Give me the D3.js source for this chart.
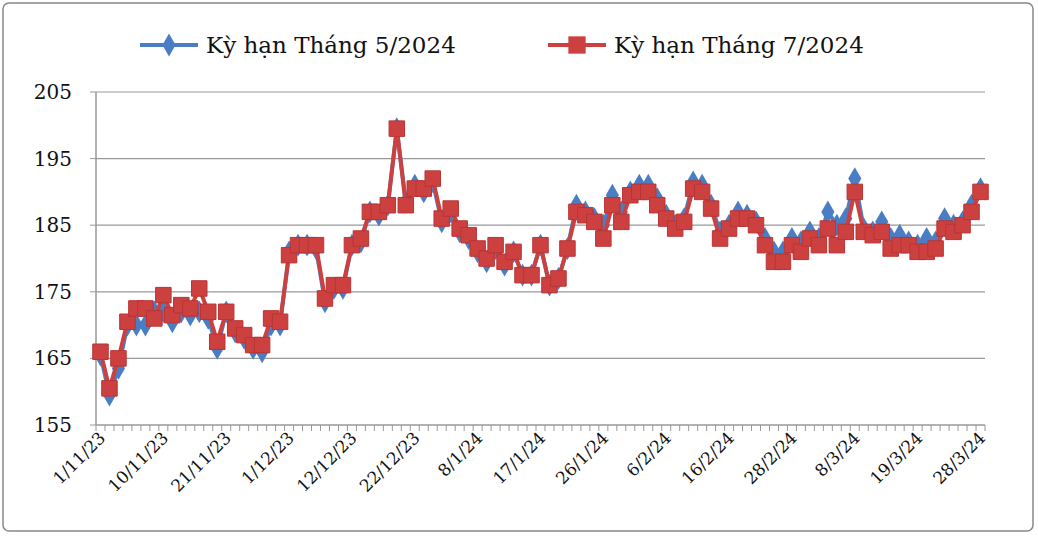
<!DOCTYPE html>
<html>
<head>
<meta charset="utf-8">
<script src="https://cdn.jsdelivr.net/npm/d3@7"></script>
<style>
  body { margin: 0; background: #fff; }
  text { font-family: "DejaVu Serif", "Liberation Serif", serif; fill: #111; }
</style>
</head>
<body>
<svg id="chart" width="1038" height="537"></svg>
<script>
// trading-day series, 99 sessions from 1/11/23 to 28/3/24
var may24 = [165.5,159.5,163.5,170,170,170,172,172,170.5,172,171.5,172,171,166.5,172,169,168,166.5,166,170,
  170,181,182,182,181.5,173.5,175.5,175.5,182,182.5,187,186.5,188,199.5,188.5,191,190,191.5,185.5,187,
  184,183,181,179.5,181.5,179,181,177.5,177.5,182,176,177,181.5,188,187,186,185,189.5,187,190,
  191,191,189,186.5,185,186,191.5,191,188,184,185,187,186.5,185.5,183,181,181,183,182.5,184,
  183,187,185,186,192,184.5,184,185.5,183,183.5,182.5,182,183,182.5,186,185,185.5,188,190.5];
var jul24 = [166,160.5,165,170.5,172.5,172.5,171,174.5,171.5,173,172.5,175.5,172,167.5,172,169.5,168.5,167,167,171,
  170.5,180.5,182,182,182,174,176,176,182,183,187,187,188,199.5,188,190.5,190.5,192,186,187.5,
  184.5,183.5,181.5,180,182,179.5,181,177.5,177.5,182,176,177,181.5,187,186.5,185.5,183,188,185.5,189.5,
  190,190,188,186,184.5,185.5,190.5,190,187.5,183,184.5,186,186,185,182,179.5,179.5,182,181,183,
  182,184.5,182,184,190,184,183.5,184,181.5,182,182,181,181,181.5,184.5,184,185,187,190];
var tickLabels = ["1/11/23","10/11/23","21/11/23","1/12/23","12/12/23","22/12/23","8/1/24","17/1/24",
  "26/1/24","6/2/24","16/2/24","28/2/24","8/3/24","19/3/24","28/3/24"];
var yTicks = [155,165,175,185,195,205];

var svg = d3.select("#chart");
var pLeft = 96, pRight = 985, pTop = 92, pBottom = 425;

svg.append("rect").attr("x", 3).attr("y", 3).attr("width", 1030).attr("height", 528)
  .attr("rx", 6).attr("fill", "#fff").attr("stroke", "#888").attr("stroke-width", 1.5);

var idx = d3.range(may24.length);
var x = d3.scaleBand().domain(idx).range([pLeft, pRight]);
var y = d3.scaleLinear().domain([155, 205]).range([pBottom, pTop]);
var cx = function (i) { return x(i) + x.bandwidth() / 2; };

// grid
svg.append("g").selectAll("line").data(yTicks.slice(1)).join("line")
  .attr("x1", pLeft).attr("x2", pRight).attr("y1", y).attr("y2", y)
  .attr("stroke", "#999").attr("stroke-width", 1.2);

// y axis
svg.append("line").attr("x1", pLeft).attr("x2", pLeft).attr("y1", pTop).attr("y2", pBottom)
  .attr("stroke", "#999").attr("stroke-width", 1.5);
svg.append("g").selectAll("text").data(yTicks).join("text")
  .attr("x", pLeft - 24).attr("y", function (d) { return y(d) + 7; })
  .attr("text-anchor", "end").style("font-size", "20px").text(function (d) { return d; });
svg.append("g").selectAll("line").data(yTicks).join("line")
  .attr("x1", pLeft - 6).attr("x2", pLeft).attr("y1", y).attr("y2", y).attr("stroke", "#999");

// x axis
svg.append("line").attr("x1", pLeft).attr("x2", pRight).attr("y1", pBottom).attr("y2", pBottom)
  .attr("stroke", "#999").attr("stroke-width", 1.5);
svg.append("g").selectAll("line").data(d3.range(may24.length + 1)).join("line")
  .attr("x1", function (i) { return pLeft + i * x.step(); })
  .attr("x2", function (i) { return pLeft + i * x.step(); })
  .attr("y1", pBottom).attr("y2", pBottom + 6).attr("stroke", "#999");
svg.append("g").selectAll("text").data(tickLabels).join("text")
  .attr("transform", function (d, k) { return "translate(" + (cx(k * 7) + 6) + "," + (pBottom + 14) + ") rotate(-45)"; })
  .attr("text-anchor", "end").style("font-size", "17px").text(function (d) { return d; });

var line = d3.line().x(function (d, i) { return cx(i); }).y(function (d) { return y(d); });

function drawSeries(data, color, shape, size) {
  var g = svg.append("g");
  g.append("path").datum(data).attr("d", line).attr("fill", "none")
    .attr("stroke", color).attr("stroke-width", 4).attr("stroke-linejoin", "round");
  g.selectAll("path.m").data(data).join("path").attr("class", "m")
    .attr("d", d3.symbol().type(shape).size(size))
    .attr("transform", function (d, i) { return "translate(" + cx(i) + "," + y(d) + ")"; })
    .attr("fill", color).attr("stroke", shape === d3.symbolSquare ? "#b93434" : "none");
}
drawSeries(may24, "#4a7ec4", d3.symbolDiamond, 150);
drawSeries(jul24, "#cc4040", d3.symbolSquare, 240);

// legend
var legend = [
  {name: "Kỳ hạn Tháng 5/2024", color: "#4a7ec4", shape: d3.symbolDiamond, size: 150, x: 140},
  {name: "Kỳ hạn Tháng 7/2024", color: "#cc4040", shape: d3.symbolSquare, size: 300, x: 548}
];
var lg = svg.append("g").selectAll("g").data(legend).join("g")
  .attr("transform", function (d) { return "translate(" + d.x + ",45)"; });
lg.append("line").attr("x1", 0).attr("x2", 58).attr("stroke", function (d) { return d.color; }).attr("stroke-width", 4);
lg.append("path").attr("d", function (d) { return d3.symbol().type(d.shape).size(d.size)(); })
  .attr("transform", "translate(29,0)").attr("fill", function (d) { return d.color; });
lg.append("text").attr("x", 66).attr("y", 8).style("font-size", "23px").text(function (d) { return d.name; });
</script>
</body>
</html>
